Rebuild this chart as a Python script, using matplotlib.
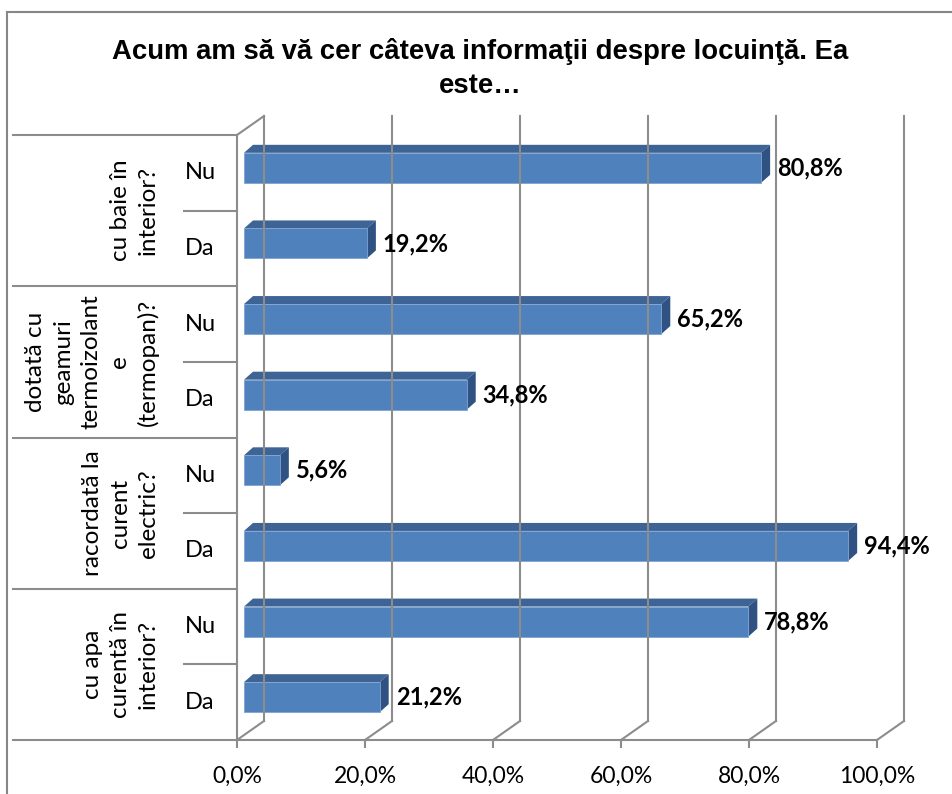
import matplotlib
matplotlib.use("Agg")
import matplotlib.pyplot as plt
from matplotlib.patches import Polygon
from matplotlib.lines import Line2D

plt.rcParams['font.family'] = ['Lato', 'DejaVu Sans']

title = "Acum am să vă cer câteva informaţii despre locuinţă. Ea\neste…"

# groups from bottom to top, each with answers Da (lower) and Nu (upper)
groups = ["cu apa\ncurentă în\ninterior?",
          "racordată la\ncurent\nelectric?",
          "dotată cu\ngeamuri\ntermoizolant\ne\n(termopan)?",
          "cu baie în\ninterior?"]
answers = ["Da", "Nu"]
da_values = [21.2, 94.4, 34.8, 19.2]
nu_values = [78.8, 5.6, 65.2, 80.8]

x_ticks = [0, 20, 40, 60, 80, 100]
x_labels = ["0,0%", "20,0%", "40,0%", "60,0%", "80,0%", "100,0%"]

values = []
for d, nv in zip(da_values, nu_values):
    values += [d, nv]

W, H, DPI = 953, 794, 100
fig = plt.figure(figsize=(W / DPI, H / DPI), dpi=DPI)

# front plane of the pseudo-3D plot, in pixels
left, right, top, bottom = 237, 877, 135, 740
ax = fig.add_axes([left / W, 1 - bottom / H, (right - left) / W, (bottom - top) / H])
n = len(values)
ax.set_xlim(0, 100)
ax.set_ylim(-0.5, n - 0.5)
ax.axis('off')

sx = 100 / (right - left)      # data units per pixel
sy = n / (bottom - top)
y0, y1 = -0.5, n - 0.5

grid_c = '#8c8c8c'
lw = 1.5

# back wall depth
wdx, wdy = 27 * sx, 19 * sy
for t in x_ticks:
    ax.plot([t + wdx, t + wdx], [y0 + wdy, y1 + wdy], color=grid_c, lw=lw, clip_on=False)
    ax.plot([t, t + wdx], [y0, y0 + wdy], color=grid_c, lw=lw, clip_on=False)
    ax.plot([t, t], [y0, y0 - 7 * sy], color=grid_c, lw=lw, clip_on=False)
for t, lab in zip(x_ticks, x_labels):
    ax.text(t, y0 - 36 * sy, lab, ha='center', va='center', fontsize=16.5, color='black')

# left wall
ax.plot([0, 0], [y0, y1], color=grid_c, lw=lw, clip_on=False)
ax.plot([0, wdx], [y1, y1 + wdy], color=grid_c, lw=lw, clip_on=False)

# category table on the left
tx0 = (13 - left) * sx
tx_in = (184 - left) * sx
ax.plot([tx0, 100], [y0, y0], color=grid_c, lw=lw, clip_on=False)
for g in range(1, len(groups) + 1):
    ax.plot([tx0, 0], [2 * g - 0.5, 2 * g - 0.5], color=grid_c, lw=lw, clip_on=False)
for g in range(len(groups)):
    ax.plot([tx_in, 0], [2 * g + 0.5, 2 * g + 0.5], color=grid_c, lw=lw, clip_on=False)
    ax.text((159 - left) * sx, 2 * g + 0.5, groups[g], rotation=90, ha='right', va='center',
            multialignment='center', fontsize=17.5, linespacing=1.4)
    for k, a in enumerate(answers):
        ax.text((200 - left) * sx, 2 * g + k, a, ha='center', va='center', fontsize=17)

# bars
front_c, top_c, side_c = '#4f81bd', '#3d6494', '#2f5282'
bx, by, bh = 7 * sx, 5 * sy, 15 * sy
ddx, ddy = 9 * sx, 8 * sy
for i, v in enumerate(values):
    yc = i + by
    xa, xb = bx, bx + v
    ya, yb = yc - bh, yc + bh
    ax.add_patch(Polygon([(xa, yb), (xb, yb), (xb + ddx, yb + ddy), (xa + ddx, yb + ddy)],
                         closed=True, facecolor=top_c, edgecolor='none', clip_on=False))
    ax.add_patch(Polygon([(xb, ya), (xb + ddx, ya + ddy), (xb + ddx, yb + ddy), (xb, yb)],
                         closed=True, facecolor=side_c, edgecolor='none', clip_on=False))
    ax.add_patch(Polygon([(xa, ya), (xb, ya), (xb, yb), (xa, yb)],
                         closed=True, facecolor=front_c, edgecolor='#7fa3d3', lw=0.6, clip_on=False))
    ax.text(xb + ddx + 7 * sx, yc, f"{v:.1f}".replace('.', ',') + '%', ha='left', va='center',
            fontsize=17, fontweight='bold', color='black')

# chart border
border_c = '#868686'
fig.add_artist(Line2D([7.5 / W, 7.5 / W], [0, 1 - 12 / H], color=border_c, lw=1.5, transform=fig.transFigure))
fig.add_artist(Line2D([7.5 / W, 1], [1 - 12 / H, 1 - 12 / H], color=border_c, lw=1.5, transform=fig.transFigure))

fig.text(480 / W, 1 - 38 / H, title, ha='center', va='top', fontsize=19.8, fontweight='bold',
         family=['Liberation Sans', 'DejaVu Sans'], linespacing=1.4)

fig.savefig("out.png", dpi=DPI)
